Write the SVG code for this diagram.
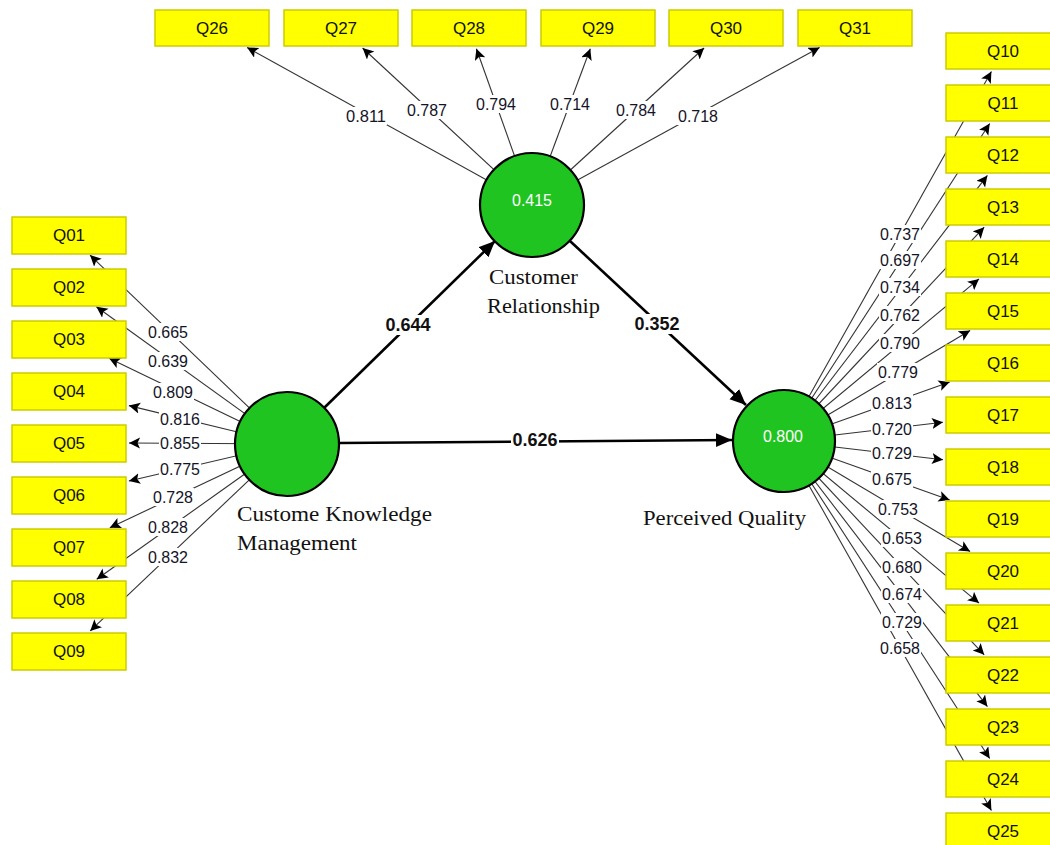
<svg xmlns="http://www.w3.org/2000/svg" width="1050" height="845" viewBox="0 0 1050 845">
<defs>
<marker id="ah" markerUnits="userSpaceOnUse" markerWidth="12" markerHeight="12" refX="11" refY="5.5" orient="auto">
<path d="M0,0 L11,5.5 L0,11 L2.5,5.5 z" fill="#000"/>
</marker>
<marker id="ahb" markerUnits="userSpaceOnUse" markerWidth="18" markerHeight="16" refX="16" refY="7" orient="auto">
<path d="M0,0 L16,7 L0,14 z" fill="#000"/>
</marker>
</defs>
<style>
.ind{stroke:#333;stroke-width:1.1;fill:none;marker-end:url(#ah)}
.str{stroke:#000;stroke-width:2.6;fill:none;marker-end:url(#ahb)}
.lb rect{fill:#fff}
.lb text{font-family:"Liberation Sans",Arial,sans-serif;font-size:17px;fill:#141428;text-anchor:middle}
.sl text{font-family:"Liberation Sans",Arial,sans-serif;font-size:18px;font-weight:bold;fill:#111;text-anchor:middle}
.box rect{fill:#ffff00;stroke:#cccc00;stroke-width:1.5}
.box text{font-family:"Liberation Sans",Arial,sans-serif;font-size:17px;fill:#111;text-anchor:middle}
.lv circle{fill:#20c420;stroke:#000;stroke-width:2.2}
.lv text.v{font-family:"Liberation Sans",Arial,sans-serif;font-size:17px;fill:#fff;text-anchor:middle}
.nm{font-family:"Liberation Serif","Times New Roman",serif;font-size:22px;fill:#111}
</style>
<rect width="1050" height="845" fill="#fff"/>
<g id="connectors">
<!-- left -->
<line class="ind" x1="287" y1="444" x2="90" y2="255.1"/>
<line class="ind" x1="287" y1="444" x2="96.4" y2="306.8"/>
<line class="ind" x1="287" y1="444" x2="109.1" y2="358.3"/>
<line class="ind" x1="287" y1="444" x2="128.9" y2="405.6"/>
<line class="ind" x1="287" y1="444" x2="129" y2="443"/>
<line class="ind" x1="287" y1="444" x2="128.9" y2="481"/>
<line class="ind" x1="287" y1="444" x2="109.8" y2="527.7"/>
<line class="ind" x1="287" y1="444" x2="96.7" y2="579.3"/>
<line class="ind" x1="287" y1="444" x2="90.2" y2="630.9"/>
<!-- top -->
<line class="ind" x1="532" y1="205" x2="247.1" y2="47.5"/>
<line class="ind" x1="532" y1="205" x2="362.6" y2="48"/>
<line class="ind" x1="532" y1="205" x2="476.4" y2="48.8"/>
<line class="ind" x1="532" y1="205" x2="590.3" y2="48.8"/>
<line class="ind" x1="532" y1="205" x2="704.1" y2="48"/>
<line class="ind" x1="532" y1="205" x2="819.6" y2="47.4"/>
<!-- right -->
<line class="ind" x1="784" y1="441" x2="991.4" y2="71.6"/>
<line class="ind" x1="784" y1="441" x2="989.7" y2="123.5"/>
<line class="ind" x1="784" y1="441" x2="987.4" y2="175.4"/>
<line class="ind" x1="784" y1="441" x2="984.2" y2="227.2"/>
<line class="ind" x1="784" y1="441" x2="979" y2="278.9"/>
<line class="ind" x1="784" y1="441" x2="970.1" y2="330.5"/>
<line class="ind" x1="784" y1="441" x2="949.7" y2="382"/>
<line class="ind" x1="784" y1="441" x2="943" y2="422.2"/>
<line class="ind" x1="784" y1="441" x2="943" y2="459.8"/>
<line class="ind" x1="784" y1="441" x2="949.7" y2="500"/>
<line class="ind" x1="784" y1="441" x2="970.1" y2="551.5"/>
<line class="ind" x1="784" y1="441" x2="979" y2="603.1"/>
<line class="ind" x1="784" y1="441" x2="984.2" y2="654.8"/>
<line class="ind" x1="784" y1="441" x2="987.4" y2="706.6"/>
<line class="ind" x1="784" y1="441" x2="989.7" y2="758.5"/>
<line class="ind" x1="784" y1="441" x2="991.4" y2="810.4"/>
<!-- structural -->
<line class="str" x1="324" y1="408" x2="495" y2="241"/>
<line class="str" x1="570" y1="241" x2="746" y2="405"/>
<line class="str" x1="339" y1="443" x2="732" y2="440"/>
<!-- loading labels -->
<g class="lb">
<rect x="147" y="323" width="42" height="18"/><text x="168" y="338" textLength="40" lengthAdjust="spacingAndGlyphs">0.665</text>
<rect x="147" y="352" width="42" height="18"/><text x="168" y="367" textLength="40" lengthAdjust="spacingAndGlyphs">0.639</text>
<rect x="152" y="383" width="42" height="18"/><text x="173" y="398" textLength="40" lengthAdjust="spacingAndGlyphs">0.809</text>
<rect x="159" y="410" width="42" height="18"/><text x="180" y="425" textLength="40" lengthAdjust="spacingAndGlyphs">0.816</text>
<rect x="159" y="434" width="42" height="18"/><text x="180" y="449" textLength="40" lengthAdjust="spacingAndGlyphs">0.855</text>
<rect x="159" y="460" width="42" height="18"/><text x="180" y="475" textLength="40" lengthAdjust="spacingAndGlyphs">0.775</text>
<rect x="152" y="488" width="42" height="18"/><text x="173" y="503" textLength="40" lengthAdjust="spacingAndGlyphs">0.728</text>
<rect x="147" y="518" width="42" height="18"/><text x="168" y="533" textLength="40" lengthAdjust="spacingAndGlyphs">0.828</text>
<rect x="147" y="548" width="42" height="18"/><text x="168" y="563" textLength="40" lengthAdjust="spacingAndGlyphs">0.832</text>

<rect x="345" y="107" width="42" height="18"/><text x="366" y="122" textLength="40" lengthAdjust="spacingAndGlyphs">0.811</text>
<rect x="406" y="101" width="42" height="18"/><text x="427" y="116" textLength="40" lengthAdjust="spacingAndGlyphs">0.787</text>
<rect x="475" y="95" width="42" height="18"/><text x="496" y="110" textLength="40" lengthAdjust="spacingAndGlyphs">0.794</text>
<rect x="549" y="95" width="42" height="18"/><text x="570" y="110" textLength="40" lengthAdjust="spacingAndGlyphs">0.714</text>
<rect x="615" y="101" width="42" height="18"/><text x="636" y="116" textLength="40" lengthAdjust="spacingAndGlyphs">0.784</text>
<rect x="677" y="107" width="42" height="18"/><text x="698" y="122" textLength="40" lengthAdjust="spacingAndGlyphs">0.718</text>

<rect x="879" y="225" width="42" height="18"/><text x="900" y="240" textLength="40" lengthAdjust="spacingAndGlyphs">0.737</text>
<rect x="879" y="251" width="42" height="18"/><text x="900" y="266" textLength="40" lengthAdjust="spacingAndGlyphs">0.697</text>
<rect x="879" y="278" width="42" height="18"/><text x="900" y="293" textLength="40" lengthAdjust="spacingAndGlyphs">0.734</text>
<rect x="879" y="306" width="42" height="18"/><text x="900" y="321" textLength="40" lengthAdjust="spacingAndGlyphs">0.762</text>
<rect x="879" y="334" width="42" height="18"/><text x="900" y="349" textLength="40" lengthAdjust="spacingAndGlyphs">0.790</text>
<rect x="877" y="363" width="42" height="18"/><text x="898" y="378" textLength="40" lengthAdjust="spacingAndGlyphs">0.779</text>
<rect x="871" y="394" width="42" height="18"/><text x="892" y="409" textLength="40" lengthAdjust="spacingAndGlyphs">0.813</text>
<rect x="871" y="420" width="42" height="18"/><text x="892" y="435" textLength="40" lengthAdjust="spacingAndGlyphs">0.720</text>
<rect x="871" y="444" width="42" height="18"/><text x="892" y="459" textLength="40" lengthAdjust="spacingAndGlyphs">0.729</text>
<rect x="871" y="470" width="42" height="18"/><text x="892" y="485" textLength="40" lengthAdjust="spacingAndGlyphs">0.675</text>
<rect x="877" y="500" width="42" height="18"/><text x="898" y="515" textLength="40" lengthAdjust="spacingAndGlyphs">0.753</text>
<rect x="881" y="529" width="42" height="18"/><text x="902" y="544" textLength="40" lengthAdjust="spacingAndGlyphs">0.653</text>
<rect x="881" y="558" width="42" height="18"/><text x="902" y="573" textLength="40" lengthAdjust="spacingAndGlyphs">0.680</text>
<rect x="881" y="585" width="42" height="18"/><text x="902" y="600" textLength="40" lengthAdjust="spacingAndGlyphs">0.674</text>
<rect x="881" y="613" width="42" height="18"/><text x="902" y="628" textLength="40" lengthAdjust="spacingAndGlyphs">0.729</text>
<rect x="879" y="639" width="42" height="18"/><text x="900" y="654" textLength="40" lengthAdjust="spacingAndGlyphs">0.658</text>
</g>
<g class="lb sl">
<rect x="384" y="315" width="48" height="20"/><text x="408" y="331" textLength="45" lengthAdjust="spacingAndGlyphs">0.644</text>
<rect x="633" y="314" width="48" height="20"/><text x="657" y="330" textLength="45" lengthAdjust="spacingAndGlyphs">0.352</text>
<rect x="511" y="430" width="48" height="20"/><text x="535" y="446" textLength="45" lengthAdjust="spacingAndGlyphs">0.626</text>
</g>
</g>
<!-- left indicators -->
<g id="Q01" class="box"><rect x="12" y="217" width="114" height="37"/><text x="69" y="241">Q01</text></g>
<g id="Q02" class="box"><rect x="12" y="269" width="114" height="37"/><text x="69" y="293">Q02</text></g>
<g id="Q03" class="box"><rect x="12" y="321" width="114" height="37"/><text x="69" y="345">Q03</text></g>
<g id="Q04" class="box"><rect x="12" y="373" width="114" height="37"/><text x="69" y="397">Q04</text></g>
<g id="Q05" class="box"><rect x="12" y="425" width="114" height="37"/><text x="69" y="449">Q05</text></g>
<g id="Q06" class="box"><rect x="12" y="477" width="114" height="37"/><text x="69" y="501">Q06</text></g>
<g id="Q07" class="box"><rect x="12" y="529" width="114" height="37"/><text x="69" y="553">Q07</text></g>
<g id="Q08" class="box"><rect x="12" y="581" width="114" height="37"/><text x="69" y="605">Q08</text></g>
<g id="Q09" class="box"><rect x="12" y="633" width="114" height="37"/><text x="69" y="657">Q09</text></g>
<!-- top indicators -->
<g id="Q26" class="box"><rect x="155" y="10" width="114" height="36"/><text x="212" y="34">Q26</text></g>
<g id="Q27" class="box"><rect x="284" y="10" width="114" height="36"/><text x="341" y="34">Q27</text></g>
<g id="Q28" class="box"><rect x="412" y="10" width="114" height="36"/><text x="469" y="34">Q28</text></g>
<g id="Q29" class="box"><rect x="541" y="10" width="114" height="36"/><text x="598" y="34">Q29</text></g>
<g id="Q30" class="box"><rect x="669" y="10" width="114" height="36"/><text x="726" y="34">Q30</text></g>
<g id="Q31" class="box"><rect x="798" y="10" width="114" height="36"/><text x="855" y="34">Q31</text></g>
<!-- right indicators -->
<g id="Q10" class="box"><rect x="946" y="33" width="114" height="36"/><text x="1003" y="57">Q10</text></g>
<g id="Q11" class="box"><rect x="946" y="85" width="114" height="36"/><text x="1003" y="109">Q11</text></g>
<g id="Q12" class="box"><rect x="946" y="137" width="114" height="36"/><text x="1003" y="161">Q12</text></g>
<g id="Q13" class="box"><rect x="946" y="189" width="114" height="36"/><text x="1003" y="213">Q13</text></g>
<g id="Q14" class="box"><rect x="946" y="241" width="114" height="36"/><text x="1003" y="265">Q14</text></g>
<g id="Q15" class="box"><rect x="946" y="293" width="114" height="36"/><text x="1003" y="317">Q15</text></g>
<g id="Q16" class="box"><rect x="946" y="345" width="114" height="36"/><text x="1003" y="369">Q16</text></g>
<g id="Q17" class="box"><rect x="946" y="397" width="114" height="36"/><text x="1003" y="421">Q17</text></g>
<g id="Q18" class="box"><rect x="946" y="449" width="114" height="36"/><text x="1003" y="473">Q18</text></g>
<g id="Q19" class="box"><rect x="946" y="501" width="114" height="36"/><text x="1003" y="525">Q19</text></g>
<g id="Q20" class="box"><rect x="946" y="553" width="114" height="36"/><text x="1003" y="577">Q20</text></g>
<g id="Q21" class="box"><rect x="946" y="605" width="114" height="36"/><text x="1003" y="629">Q21</text></g>
<g id="Q22" class="box"><rect x="946" y="657" width="114" height="36"/><text x="1003" y="681">Q22</text></g>
<g id="Q23" class="box"><rect x="946" y="709" width="114" height="36"/><text x="1003" y="733">Q23</text></g>
<g id="Q24" class="box"><rect x="946" y="761" width="114" height="36"/><text x="1003" y="785">Q24</text></g>
<g id="Q25" class="box"><rect x="946" y="813" width="114" height="36"/><text x="1003" y="837">Q25</text></g>
<!-- latent variables -->
<g id="CKM" class="lv">
<circle cx="287" cy="444" r="52"/>
<text class="nm" x="237" y="521" textLength="195" lengthAdjust="spacingAndGlyphs">Custome Knowledge</text>
<text class="nm" x="237" y="550" textLength="120" lengthAdjust="spacingAndGlyphs">Management</text>
</g>
<g id="CR" class="lv">
<circle cx="532" cy="205" r="52"/>
<text class="v" x="532" y="206" textLength="40" lengthAdjust="spacingAndGlyphs">0.415</text>
<text class="nm" x="489" y="284" textLength="89" lengthAdjust="spacingAndGlyphs">Customer</text>
<text class="nm" x="487" y="313" textLength="113" lengthAdjust="spacingAndGlyphs">Relationship</text>
</g>
<g id="PQ" class="lv">
<circle cx="784" cy="441" r="51"/>
<text class="v" x="783" y="442" textLength="40" lengthAdjust="spacingAndGlyphs">0.800</text>
<text class="nm" x="643" y="525" textLength="163" lengthAdjust="spacingAndGlyphs">Perceived Quality</text>
</g>
</svg>
